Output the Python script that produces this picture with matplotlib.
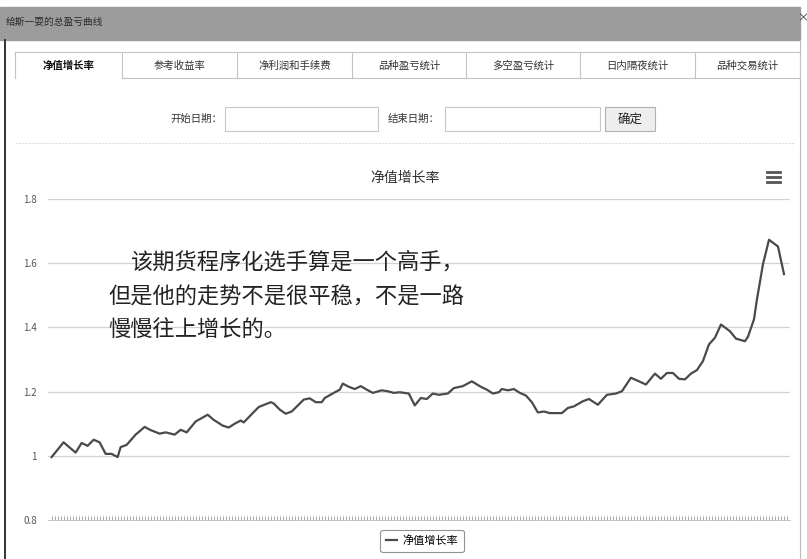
import matplotlib
matplotlib.use('Agg')
import matplotlib.pyplot as plt
from matplotlib.patches import Rectangle

plt.rcParams['font.family'] = ['Noto Sans CJK SC', 'DejaVu Sans']

# net value curve (day index, value)
days = [0, 4, 8, 10, 12, 14, 16, 18, 20, 22, 23, 25, 28, 31, 33, 36, 38, 41, 43, 45,
        48, 52, 54, 57, 59, 61, 63, 64, 67, 69, 73, 74, 76, 78, 80, 84, 86, 88, 90, 91,
        94, 96, 97, 99, 101, 103, 105, 107, 110, 112, 114, 116, 119, 121, 123, 125, 127,
        129, 132, 134, 137, 139, 140, 143, 145, 147, 149, 150, 152, 154, 156, 158, 160,
        162, 164, 166, 170, 172, 174, 177, 179, 182, 185, 188, 190, 193, 195, 198, 201,
        203, 205, 207, 209, 211, 213, 215, 217, 219, 221, 223, 226, 228, 231, 232, 234,
        235, 237, 239, 241, 242, 244]
values = [0.996, 1.042, 1.010, 1.040, 1.031, 1.050, 1.042, 1.006, 1.006, 0.996, 1.027,
          1.034, 1.066, 1.090, 1.080, 1.069, 1.073, 1.066, 1.081, 1.073, 1.107, 1.128,
          1.112, 1.094, 1.088, 1.100, 1.110, 1.104, 1.133, 1.152, 1.167, 1.163, 1.144,
          1.131, 1.138, 1.175, 1.179, 1.167, 1.167, 1.180, 1.196, 1.206, 1.225, 1.215,
          1.208, 1.217, 1.206, 1.196, 1.204, 1.201, 1.196, 1.198, 1.194, 1.157, 1.180,
          1.177, 1.194, 1.190, 1.194, 1.211, 1.217, 1.227, 1.232, 1.215, 1.206, 1.194,
          1.198, 1.208, 1.204, 1.208, 1.196, 1.188, 1.167, 1.135, 1.138, 1.133, 1.133,
          1.149, 1.154, 1.170, 1.177, 1.159, 1.190, 1.194, 1.201, 1.243, 1.235, 1.222,
          1.256, 1.240, 1.258, 1.258, 1.240, 1.238, 1.256, 1.267, 1.295, 1.347, 1.368,
          1.409, 1.388, 1.365, 1.357, 1.371, 1.425, 1.488, 1.597, 1.673, 1.659, 1.652,
          1.566]

ytick_values = [0.8, 1.0, 1.2, 1.4, 1.6, 1.8]
ytick_labels = ['0.8', '1', '1.2', '1.4', '1.6', '1.8']

window_title = '给斯一耍的总盈亏曲线'
tabs = ['净值增长率', '参考收益率', '净利润和手续费', '品种盈亏统计',
        '多空盈亏统计', '日内隔夜统计', '品种交易统计']
chart_title = '净值增长率'
series_name = '净值增长率'
note_lines = ['该期货程序化选手算是一个高手，',
              '但是他的走势不是很平稳，不是一路',
              '慢慢往上增长的。']

W, H = 807, 559
fig = plt.figure(figsize=(W / 100, H / 100), dpi=100)

# window chrome drawn in pixel coords
ui = fig.add_axes([0, 0, 1, 1])
ui.set_xlim(0, W)
ui.set_ylim(H, 0)
ui.axis('off')

ui.add_patch(Rectangle((0, 7), 800, 33, color='#9c9c9c'))
ui.text(6, 22, window_title, fontsize=7, color='#2a2a2a', va='center')
ui.text(803, 18, '×', fontsize=8, color='#333333', va='center', ha='center')
ui.plot([5, 5], [40, H], color='#333333', lw=1.4)
ui.plot([800, 800], [40, H], color='#bbbbbb', lw=0.8)

# tab strip
seps = [15, 122, 237, 352, 466, 580, 695, 800]
ui.plot([15, 800], [52, 52], color='#c4c4c4', lw=0.8)
ui.plot([122, 800], [78, 78], color='#c4c4c4', lw=0.8)
for sx in seps:
    ui.plot([sx, sx], [52, 78], color='#c4c4c4', lw=0.8)
for i, name in enumerate(tabs):
    cx = (seps[i] + seps[i + 1]) / 2
    ui.text(cx, 66, name, fontsize=7.5, ha='center', va='center',
            color='#111111' if i == 0 else '#333333',
            fontweight='bold' if i == 0 else 'normal')

# date filter row
ui.text(222, 119, '开始日期：', fontsize=7.5, ha='right', va='center', color='#333333')
ui.add_patch(Rectangle((225, 107), 153, 24, fill=False, ec='#c8c8c8', lw=0.8))
ui.text(440, 119, '结束日期：', fontsize=7.5, ha='right', va='center', color='#333333')
ui.add_patch(Rectangle((445, 107), 155, 24, fill=False, ec='#c8c8c8', lw=0.8))
ui.add_patch(Rectangle((605, 107), 50, 24, fc='#eeeeee', ec='#b0b0b0', lw=0.8))
ui.text(630, 119, '确定', fontsize=9, ha='center', va='center', color='#222222')
ui.plot([15, 795], [143, 143], color='#dddddd', lw=0.8, ls=(0, (2, 1)))

# chart title and menu icon
ui.text(405, 178, chart_title, fontsize=10, ha='center', va='center', color='#333333')
for yy in [172, 177, 182]:
    ui.plot([767, 780], [yy, yy], color='#555555', lw=2)

# chart
ax = fig.add_axes([48 / W, 1 - 520 / H, (790 - 48) / W, (520 - 199) / H])
ax.patch.set_alpha(0)
ax.plot(days, values, color='#4a4a4a', lw=1.6, label=series_name, zorder=3)
ax.set_xlim(-1.2, 246)
ax.set_ylim(0.8, 1.8)
ax.set_yticks(ytick_values)
ax.set_yticklabels(ytick_labels, fontsize=7, color='#555555')
ax.tick_params(axis='y', length=0, pad=8)
ax.set_xticks(range(0, 246))
ax.set_xticklabels([])
ax.tick_params(axis='x', length=3, width=0.6, color='#9a9a9a', direction='in')
for y in ytick_values[1:]:
    ax.axhline(y, color='#d2d2d2', lw=0.9, zorder=1)
for s in ['top', 'left', 'right']:
    ax.spines[s].set_visible(False)
ax.spines['bottom'].set_color('#bbbbbb')
ax.spines['bottom'].set_linewidth(0.6)

leg = ax.legend(loc='center', bbox_to_anchor=(422 / W, 1 - 541 / H),
                bbox_transform=fig.transFigure, fontsize=8, handlelength=1.0,
                handletextpad=0.5, frameon=True, fancybox=True, borderpad=0.5)
leg.get_frame().set_edgecolor('#777777')
leg.get_frame().set_linewidth(0.8)

# annotation written over the chart
note = fig.add_axes([0, 0, 1, 1])
note.set_xlim(0, W)
note.set_ylim(H, 0)
note.axis('off')
note_x = [130, 108, 108]
note_y = [262, 297, 330]
for tx, ty, line in zip(note_x, note_y, note_lines):
    note.text(tx, ty, line, fontsize=16, va='center', ha='left', color='#222222')

fig.savefig('out.png', dpi=100)
